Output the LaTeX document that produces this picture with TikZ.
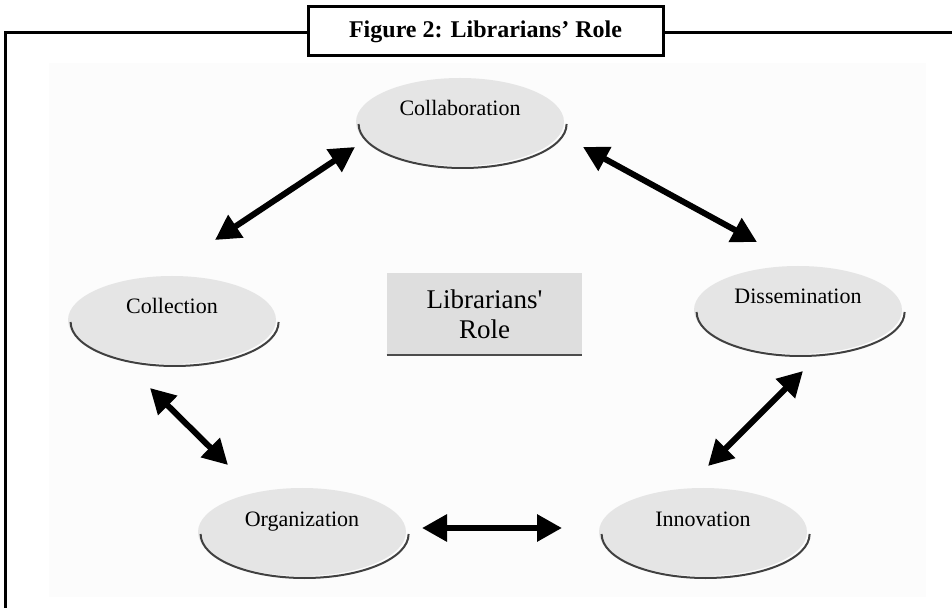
\documentclass[tikz,border=0pt]{standalone}
\usepackage{fontspec}
\setmainfont{Liberation Serif}
\usetikzlibrary{calc}
\usetikzlibrary{arrows.meta}
\usepgflibrary{shapes.geometric}

\tikzset{
  bubble/.style={ellipse, fill=black!10, minimum width=104pt, minimum height=44pt,
    inner sep=1pt, font=\fontsize{11}{13}\selectfont, text height=8pt, text depth=14pt},
  bubshadow/.style={draw=black!75, line width=1pt},
  dblarrow/.style={{Triangle[length=12.5pt,width=13pt]}-{Triangle[length=12.5pt,width=13pt]}, line width=3pt},
}

\begin{document}
\begin{tikzpicture}[x=0.5pt,y=-0.5pt]
  \useasboundingbox (0,0) rectangle (952,608);
  % Fondo
  \fill[black!1] (49,63) rectangle (926,597);
  % Marco
  \draw[line width=1.5pt] (952,33) -- (5,33) -- (5,608);
  \node[draw, line width=1.5pt, fill=white, minimum width=177.5pt, minimum height=24.5pt,
    font=\bfseries\fontsize{12}{14}\selectfont] (title) at (485.5,31.5) {Figure 2: Librarians' Role};
  % Elipses
  \node[bubble] (collab) at (460,122) {Collaboration};
  \node[bubble] (collect) at (172,320) {Collection};
  \node[bubble] (dissem) at (798,310) {Dissemination};
  \node[bubble] (organ) at (302,532) {Organization};
  \node[bubble] (innov) at (703,532) {Innovation};
  % Sombras
  \foreach \n in {collab,collect,dissem,organ,innov}
    \draw[bubshadow] ($(\n.west)+(3,2)$) arc[start angle=180, end angle=360, x radius=52pt, y radius=22pt];
  % Caja central
  \node[fill=black!13, minimum width=97.5pt, minimum height=41pt, align=center,
    font=\fontsize{13.5}{15}\selectfont] (role) at (484.5,314) {Librarians\textquotesingle\\Role};
  \draw[black!70, line width=1pt] (role.south west) -- (role.south east);
  % Flechas
  \draw[dblarrow] ($(collab)+(-105,25)$) -- ($(collect)+(43,-80)$);
  \draw[dblarrow] ($(collab)+(123,25)$) -- ($(dissem)+(-41,-68)$);
  \draw[dblarrow] ($(collect)+(-22,68)$) -- ($(organ)+(-74,-67)$);
  \draw[dblarrow] ($(dissem)+(5,61)$) -- ($(innov)+(5,-66)$);
  \draw[dblarrow] ($(organ)+(120,-4)$) -- ($(innov)+(-141,-4)$);
\end{tikzpicture}
\end{document}
